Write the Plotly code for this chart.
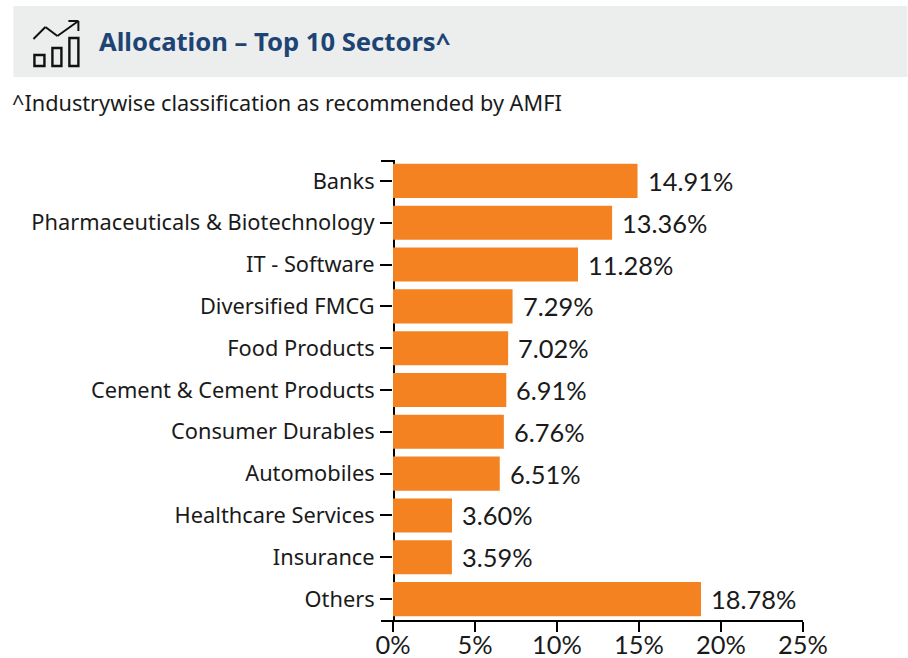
import plotly.graph_objects as go

categories = ["Banks", "Pharmaceuticals & Biotechnology", "IT - Software", "Diversified FMCG",
              "Food Products", "Cement & Cement Products", "Consumer Durables", "Automobiles",
              "Healthcare Services", "Insurance", "Others"]
values = [14.91, 13.36, 11.28, 7.29, 7.02, 6.91, 6.76, 6.51, 3.60, 3.59, 18.78]
x_ticks = [0, 5, 10, 15, 20, 25]
x_tick_labels = ["0%", "5%", "10%", "15%", "20%", "25%"]
title_text = "Allocation – Top 10 Sectors^"
note_text = "^Industrywise classification as recommended by AMFI"

W, H = 908, 658
L, R, T, B = 393, 803.5, 160, 620
BAR = "#F58220"
INK = "#1a1a1a"
SANS = "Noto Sans"
NUM = "Lato"

def px(x):
    return (x - L) / (R - L)

def py(y):
    return (B - y) / (B - T)

fig = go.Figure(go.Bar(
    x=values, y=categories, orientation="h", marker=dict(color=BAR, line_width=0),
    width=0.815, hoverinfo="skip"))

shapes = [dict(type="rect", xref="paper", yref="paper", x0=px(13), x1=px(W), y0=py(77), y1=py(6),
               fillcolor="#ECEDED", line_width=0, layer="below")]

def rule(pts, w=2, color="black", layer="above"):
    for (a, b), (c, d) in zip(pts, pts[1:]):
        shapes.append(dict(type="line", xref="paper", yref="paper", x0=px(a), y0=py(b),
                           x1=px(c), y1=py(d), line=dict(color=color, width=w), layer=layer))

# axis frame: spine sits under the bars, with a stub tick at the top and left of the x axis
rule([(381, 161), (395, 161)])
rule([(394, 160), (394, 621)], layer="below")
rule([(381, 621), (394, 621)])

# header icon
rule([(33, 39), (45, 27), (57, 36), (78, 21)], color="#111111")
rule([(68, 21), (78, 21), (78, 31)], color="#111111")
for x0, y0, x1 in [(34, 55, 44), (52, 48, 61), (69, 38, 78)]:
    shapes.append(dict(type="rect", xref="paper", yref="paper", x0=px(x0), x1=px(x1),
                       y0=py(66), y1=py(y0), line=dict(color="#111111", width=2.4),
                       fillcolor="rgba(0,0,0,0)"))

annotations = [
    dict(text=f"<b>{title_text}</b>", xref="paper", yref="paper", x=px(99), y=py(42),
         xanchor="left", yanchor="middle", showarrow=False, xshift=-2,
         font=dict(family=SANS, size=25.6, color="#1C4475")),
    dict(text=note_text, xref="paper", yref="paper", x=px(13), y=py(103),
         xanchor="left", yanchor="middle", showarrow=False, xshift=-3,
         font=dict(family=SANS, size=21.7, color=INK)),
]
for c, v in zip(categories, values):
    annotations.append(dict(text=f"{v:.2f}%", x=v, y=c, xref="x", yref="y", xanchor="left",
                            yanchor="middle", xshift=8, yshift=0, showarrow=False,
                            font=dict(family=NUM, size=25.4, color=INK)))

fig.update_layout(
    width=W, height=H, autosize=False, showlegend=False,
    paper_bgcolor="white", plot_bgcolor="white",
    margin=dict(l=L, r=W - R, t=T, b=H - B),
    shapes=shapes, annotations=annotations,
    xaxis=dict(range=[0, 25], tickmode="array", tickvals=x_ticks, ticktext=x_tick_labels,
               automargin=False,
               showgrid=False, zeroline=False, showline=True, linecolor="black", linewidth=2,
               ticks="outside", ticklen=10, tickwidth=2, tickcolor="black", ticklabelstandoff=-8,
               tickfont=dict(family=NUM, size=25.4, color=INK)),
    yaxis=dict(autorange="reversed", type="category", showgrid=False, zeroline=False,
               automargin=False, showline=False, ticks="outside", ticklen=12, layer="below traces",
               tickwidth=2, tickcolor="black", ticklabelstandoff=1,
               tickfont=dict(family=SANS, size=21.8, color=INK)),
)

fig.write_html("out.html", config=dict(displayModeBar=False),
               post_script="document.body.style.margin='0';")
